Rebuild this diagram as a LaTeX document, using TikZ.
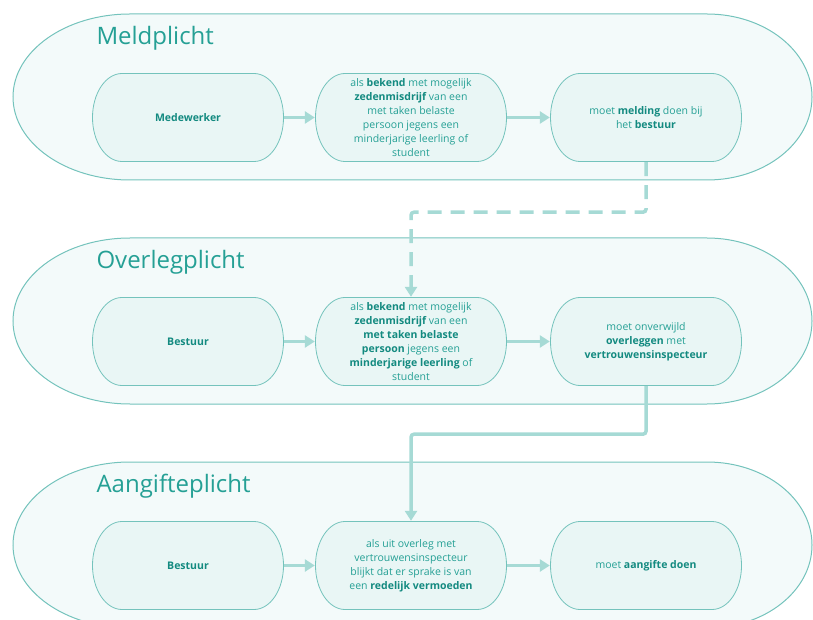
\documentclass[tikz,border=0pt]{standalone}
\usepackage{fontspec}
\setmainfont{Open Sans}
\usepackage{xcolor}
\usepackage{tikz}
\usetikzlibrary{arrows.meta}

\definecolor{bandfill}{HTML}{F3FAFA}
\definecolor{boxfill}{HTML}{E9F6F5}
\definecolor{linec}{HTML}{74C3BC}
\definecolor{arrowc}{HTML}{A6DAD5}
\definecolor{textc}{HTML}{25A095}
\definecolor{boldc}{HTML}{138A80}
\newcommand{\kw}[1]{\textbf{\color{boldc}#1}}

\begin{document}
\begin{tikzpicture}
            [x=1pt, y=1pt,
            band/.style={draw=linec, line width=1pt, fill=bandfill},
            title/.style={anchor=west, text=textc, font=\fontsize{24}{28}\selectfont},
            stepbox/.style={rectangle, minimum width=192pt, minimum height=89pt,
                inner sep=0pt, text=textc, align=center,
                font=\fontsize{10.5}{14}\selectfont,
                path picture={
                    \draw[draw=linec, line width=0.8pt, fill=boxfill]
                        ([xshift=30pt, yshift=-0.5pt]path picture bounding box.north west)
                        -- ([xshift=-30pt, yshift=-0.5pt]path picture bounding box.north east)
                        arc[start angle=90, end angle=-90, x radius=29.5pt, y radius=44pt]
                        -- ([xshift=30pt, yshift=0.5pt]path picture bounding box.south west)
                        arc[start angle=270, end angle=90, x radius=29.5pt, y radius=44pt]
                        -- cycle;}},
            flow/.style={draw=arrowc, line width=3.5pt,
                -{Triangle[length=10pt, width=12pt]}},
            dashflow/.style={flow, dash pattern=on 14pt off 9pt, rounded corners=3pt}]

            \useasboundingbox (0,0) rectangle (813,619);

            % the three bands
            \foreach \y/\name in {522/Meldplicht, 298/Overlegplicht, 74/Aangifteplicht} {
                \draw[band] (130,\y+83) -- (707,\y+83)
                    arc[start angle=90, end angle=-90, x radius=105, y radius=83]
                    -- (130,\y-83)
                    arc[start angle=270, end angle=90, x radius=117, y radius=83] -- cycle;
                \node[title] (t\y) at (93,\y+59) {\name};
            }

            % Meldplicht
            \node[stepbox] (m1) at (188,501.5) {\kw{Medewerker}};
            \node[stepbox] (m2) at (411,501.5) {als \kw{bekend} met mogelijk\\
                \kw{zedenmisdrijf} van een\\ met taken belaste\\ persoon jegens een\\
                minderjarige leerling of\\ student};
            \node[stepbox] (m3) at (646,501.5) {moet \kw{melding} doen bij\\ het \kw{bestuur}};

            % Overlegplicht
            \node[stepbox] (o1) at (188,277.5) {\kw{Bestuur}};
            \node[stepbox] (o2) at (411,277.5) {als \kw{bekend} met mogelijk\\
                \kw{zedenmisdrijf} van een\\ \kw{met taken belaste}\\ \kw{persoon} jegens een\\
                \kw{minderjarige leerling} of\\ student};
            \node[stepbox] (o3) at (646,277.5) {moet onverwijld\\ \kw{overleggen} met\\
                \kw{vertrouwensinspecteur}};

            % Aangifteplicht
            \node[stepbox] (a1) at (188,53.5) {\kw{Bestuur}};
            \node[stepbox] (a2) at (411,53.5) {als uit overleg met\\ vertrouwensinspecteur\\
                blijkt dat er sprake is van\\ een \kw{redelijk vermoeden}};
            \node[stepbox] (a3) at (646,53.5) {moet \kw{aangifte doen}};

            \foreach \a/\b in {m1/m2, m2/m3, o1/o2, o2/o3, a1/a2, a2/a3}
                \draw[flow] (\a) -- (\b);

            \draw[dashflow] (m3.south) -- ++(0,-50) -| (o2.north);
            \draw[flow, rounded corners=3pt] (o3.south) -- ++(0,-48) -| (a2.north);
        \end{tikzpicture}
\end{document}
